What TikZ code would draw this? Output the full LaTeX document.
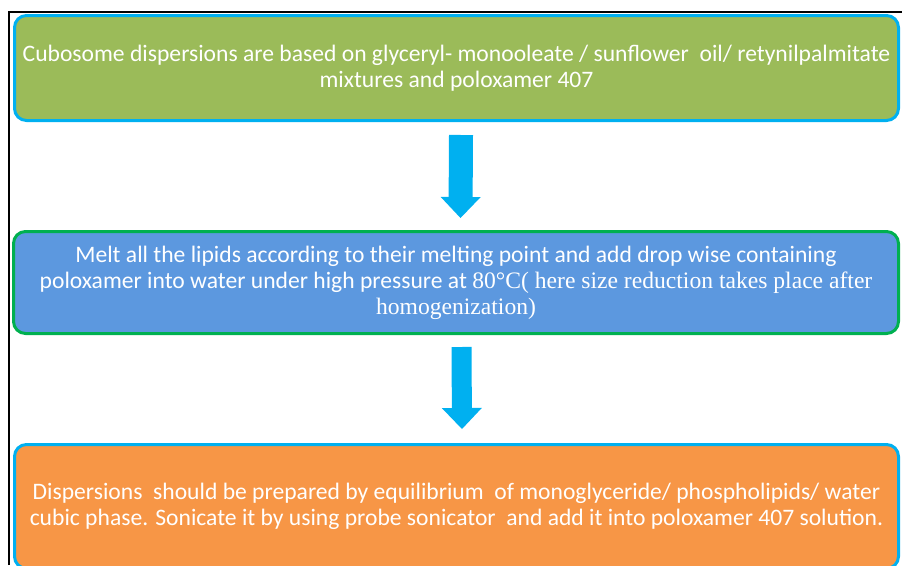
\documentclass[tikz,border=0pt]{standalone}
\usepackage{fontspec}
\setmainfont{Carlito}
\newfontfamily\timesfont{Liberation Serif}
\usetikzlibrary{arrows.meta,positioning}

\definecolor{olivefill}{HTML}{9BBB59}
\definecolor{skyline}{HTML}{00B0F0}
\definecolor{bluefill}{HTML}{5C98DF}
\definecolor{greenline}{HTML}{00B050}
\definecolor{orangefill}{HTML}{F79646}

\begin{document}
\begin{tikzpicture}[x=1pt, y=-1pt,
    stagebox/.style={draw, rounded corners=12pt, line width=3pt, align=center, text=white, inner sep=0pt, font=\fontsize{23.6}{26}\selectfont},
    mixbox/.style={stagebox, draw=skyline, fill=olivefill, minimum width=884pt, minimum height=105pt},
    meltbox/.style={stagebox, draw=greenline, fill=bluefill, minimum width=885pt, minimum height=102pt},
    dispbox/.style={stagebox, draw=skyline, fill=orangefill, minimum width=884pt, minimum height=124pt},
    arr/.style={-{Triangle[width=40pt, length=21pt, line width=0pt]}, line width=24pt, color=skyline},
  ]
  \clip (0,0) rectangle (902,565);

  % Steps
  \node[mixbox]  (cubo_mix)  at (456.5, 68)    {Cubosome dispersions are based on glyceryl- monooleate / sunflower\ \ oil/ retynilpalmitate\\mixtures and poloxamer 407};
  \node[meltbox] (melt_step) at (456, 282.5)   {Melt all the lipids according to their melting point and add drop wise containing\\poloxamer into water under high pressure at {\timesfont 80°C( here size reduction takes place after}\\{\timesfont homogenization)}};
  \node[dispbox] (disp_step) at (456.5, 506.5) {Dispersions\ \ should be prepared by equilibrium\ \ of monoglyceride/ phospholipids/ water\\cubic phase. Sonicate it by using probe sonicator\ \ and add it into poloxamer 407 solution.};

  % Arrows
  \draw[arr] ([xshift=4.5pt, yshift=-13pt]cubo_mix.south) -- ([xshift=4.5pt, yshift=12pt]melt_step.north);
  \draw[arr, line width=20pt] ([xshift=5.5pt, yshift=-12pt]melt_step.south) -- ([xshift=5.5pt, yshift=14pt]disp_step.north);

  % Frame
  \draw[line width=2pt] (9,565) -- (9,12) -- (902,12);
\end{tikzpicture}
\end{document}
